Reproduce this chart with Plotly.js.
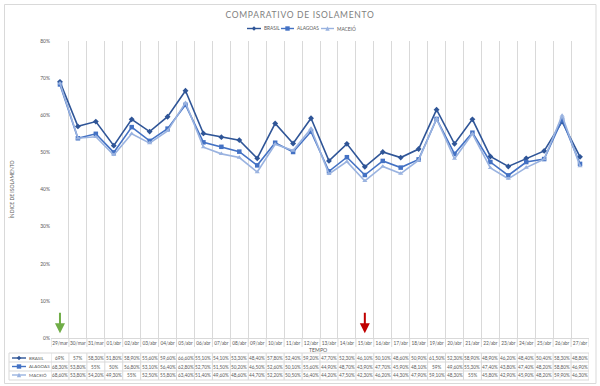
<!DOCTYPE html>
<html>
<head>
<meta charset="utf-8">
<script src="https://cdn.plot.ly/plotly-3.0.1.min.js"></script>
<style>
  html,body{margin:0;padding:0;background:#fff;}
  #chart{width:600px;height:386px;}
  .gtitle{letter-spacing:0.7px;}
</style>
</head>
<body>
<div id="chart"></div>
<script>
const dates = ["29/mar","30/mar","31/mar","01/abr","02/abr","03/abr","04/abr","05/abr","06/abr","07/abr",
  "08/abr","09/abr","10/abr","11/abr","12/abr","13/abr","14/abr","15/abr","16/abr","17/abr",
  "18/abr","19/abr","20/abr","21/abr","22/abr","23/abr","24/abr","25/abr","26/abr","27/abr"];
const brasil = [69,57,58.3,51.8,58.9,55.6,59.6,66.6,55.1,54.1,53.3,48.4,57.8,52.4,59.2,47.7,52.3,46.1,50.1,48.6,50.9,61.5,52.3,58.9,48.9,46.2,48.4,50.4,58.3,48.8];
const alagoas = [68.3,53.8,55,50,56.8,53.1,56.4,62.8,52.7,51.5,50.2,46.5,52.6,50.1,55.6,44.9,48.7,43.9,47.7,45.9,48.1,59,49.6,55.3,47.4,43.8,47.4,48.2,58.8,46.9];
const maceio = [68.6,53.8,54.2,49.3,55,52.5,55.8,63.4,51.4,49.6,48.6,44.7,52.2,50.5,56.4,44.2,47.5,42.3,46.2,44.3,47.9,59.1,48.3,55.0,45.8,42.9,45.9,48.2,59.9,46.3];
const seriesNames = ["BRASIL","ALAGOAS","MACEIÓ"];
const yTicks = [0,10,20,30,40,50,60,70,80];
const arrowDates = ["29/mar","15/abr"];

const colors = ["#2F5597","#4472C4","#9AB3E0"];
const symbols = ["diamond","square","triangle-up"];
const allSeries = [brasil, alagoas, maceio];

const fmt = v => Number.isInteger(v) ? v + "%" : v.toFixed(2).replace(".", ",") + "%";

// plot area pixel geometry
const L = 51, R = 589, T = 41, B = 338;
const W = R - L, H = B - T;
const px = X => (X - L) / W;
const py = Y => (B - Y) / H;

const traces = allSeries.map((s, k) => ({
  type: "scatter", mode: "lines+markers",
  name: seriesNames[k], x: dates, y: s,
  line: {color: colors[k], width: 1.6},
  marker: {symbol: symbols[k], size: 4.5, color: colors[k]},
  hoverinfo: "x+y", showlegend: false
}));

const textColor = "#595959";
const gridColor = "#D9D9D9";
const fontFam = "Lato, 'Open Sans', sans-serif";

const annotations = [];
const shapes = [];
const rowY = [358, 366.5, 375];

function key(k, x0, x1, Y) {
  shapes.push({type: "line", xref: "paper", yref: "paper", x0: px(x0), x1: px(x1),
    y0: py(Y), y1: py(Y), line: {color: colors[k], width: 1.4}});
  const cx = px((x0 + x1) / 2), cy = py(Y);
  const dx = 2.2 / W, dy = 2.2 / H;
  if (k === 0) {
    shapes.push({type: "path", xref: "paper", yref: "paper",
      path: `M ${cx-dx} ${cy} L ${cx} ${cy+dy} L ${cx+dx} ${cy} L ${cx} ${cy-dy} Z`,
      fillcolor: colors[k], line: {width: 0}});
  } else if (k === 1) {
    shapes.push({type: "rect", xref: "paper", yref: "paper",
      x0: cx-dx, x1: cx+dx, y0: cy-dy, y1: cy+dy, fillcolor: colors[k], line: {width: 0}});
  } else {
    shapes.push({type: "path", xref: "paper", yref: "paper",
      path: `M ${cx-dx} ${cy-dy} L ${cx+dx} ${cy-dy} L ${cx} ${cy+dy} Z`,
      fillcolor: colors[k], line: {width: 0}});
  }
}

// table values
allSeries.forEach((s, k) => {
  s.forEach((v, i) => {
    annotations.push({x: dates[i], y: py(rowY[k]), xref: "x", yref: "paper",
      text: fmt(v), showarrow: false, font: {size: 4.7, color: textColor, family: fontFam},
      xanchor: "center", yanchor: "middle"});
  });
  annotations.push({x: px(27), y: py(rowY[k]), xref: "paper", yref: "paper",
    text: seriesNames[k], showarrow: false, font: {size: 4.5, color: textColor, family: fontFam},
    xanchor: "left", yanchor: "middle"});
  key(k, 12, 26, rowY[k]);
});

// top legend (drawn manually)
const legKeyX = [[247, 261], [281, 294], [321, 334]];
const legY = 28.5;
seriesNames.forEach((n, k) => {
  key(k, legKeyX[k][0], legKeyX[k][1], legY);
  annotations.push({x: px(legKeyX[k][1] + 1), y: py(legY), xref: "paper", yref: "paper",
    text: n, showarrow: false, font: {size: 4.8, color: textColor, family: fontFam},
    xanchor: "left", yanchor: "middle"});
});

// table grid
const tableTop = 353, tableBot = 380;
[353, 362, 371, 380].forEach(Y => {
  shapes.push({type: "line", xref: "paper", yref: "paper", x0: px(9), x1: px(R),
    y0: py(Y), y1: py(Y), line: {color: gridColor, width: 1}});
});
shapes.push({type: "line", xref: "paper", yref: "paper", x0: px(9), x1: px(9),
  y0: py(tableTop), y1: py(tableBot), line: {color: gridColor, width: 1}});
for (let i = 0; i <= dates.length; i++) {
  shapes.push({type: "line", xref: "x", yref: "paper", x0: i - 0.5, x1: i - 0.5,
    y0: 0, y1: py(347), line: {color: gridColor, width: 1}});
  shapes.push({type: "line", xref: "x", yref: "paper", x0: i - 0.5, x1: i - 0.5,
    y0: py(tableTop), y1: py(tableBot), line: {color: gridColor, width: 1}});
}

// outer chart border
shapes.push({type: "rect", xref: "paper", yref: "paper",
  x0: px(4.5), x1: px(596), y0: py(383.5), y1: py(4.5),
  line: {color: "#D9D9D9", width: 1}, fillcolor: "rgba(0,0,0,0)", layer: "below"});

// TEMPO axis title
annotations.push({x: px(318), y: py(350), xref: "paper", yref: "paper", text: "TEMPO",
  showarrow: false, font: {size: 5.2, color: textColor, family: fontFam}, xanchor: "center", yanchor: "middle"});

// arrows
const arrowColors = ["#70AD47", "#C00000"];
arrowDates.forEach((d, k) => {
  annotations.push({x: d, y: 1.3, xref: "x", yref: "y", ax: d, ay: 7.2, axref: "x", ayref: "y",
    text: "", showarrow: true, arrowhead: 2, arrowsize: 1, arrowwidth: 2, arrowcolor: arrowColors[k]});
});

const layout = {
  width: 600, height: 386,
  margin: {l: L, r: 600 - R, t: T, b: 386 - B, pad: 0},
  paper_bgcolor: "#fff", plot_bgcolor: "#fff",
  font: {family: fontFam, color: textColor, size: 6},
  title: {text: "COMPARATIVO DE ISOLAMENTO", x: 0.5, xref: "container", xanchor: "center",
    y: 1 - 15 / 386, yref: "container", yanchor: "middle",
    font: {size: 8.5, color: "#808080", family: fontFam}},
  showlegend: false,
  xaxis: {type: "category", tickson: "boundaries", showgrid: true, gridcolor: gridColor, gridwidth: 1,
    showline: true, linecolor: gridColor, linewidth: 1, ticks: "", ticklen: 0,
    tickfont: {size: 4.8, color: textColor, family: fontFam}, tickangle: 0,
    range: [-0.5, dates.length - 0.5], zeroline: false, fixedrange: true},
  yaxis: {range: [0, 80], tickvals: yTicks, ticktext: yTicks.map(v => v + "%"),
    showgrid: false, zeroline: false, showline: false, ticks: "",
    tickfont: {size: 5, color: textColor, family: fontFam},
    title: {text: "ÍNDICE DE ISOLAMENTO", font: {size: 5, color: textColor, family: fontFam}, standoff: 25},
    fixedrange: true},
  annotations: annotations,
  shapes: shapes
};

Plotly.newPlot("chart", traces, layout, {displayModeBar: false, staticPlot: true});
</script>
</body>
</html>
